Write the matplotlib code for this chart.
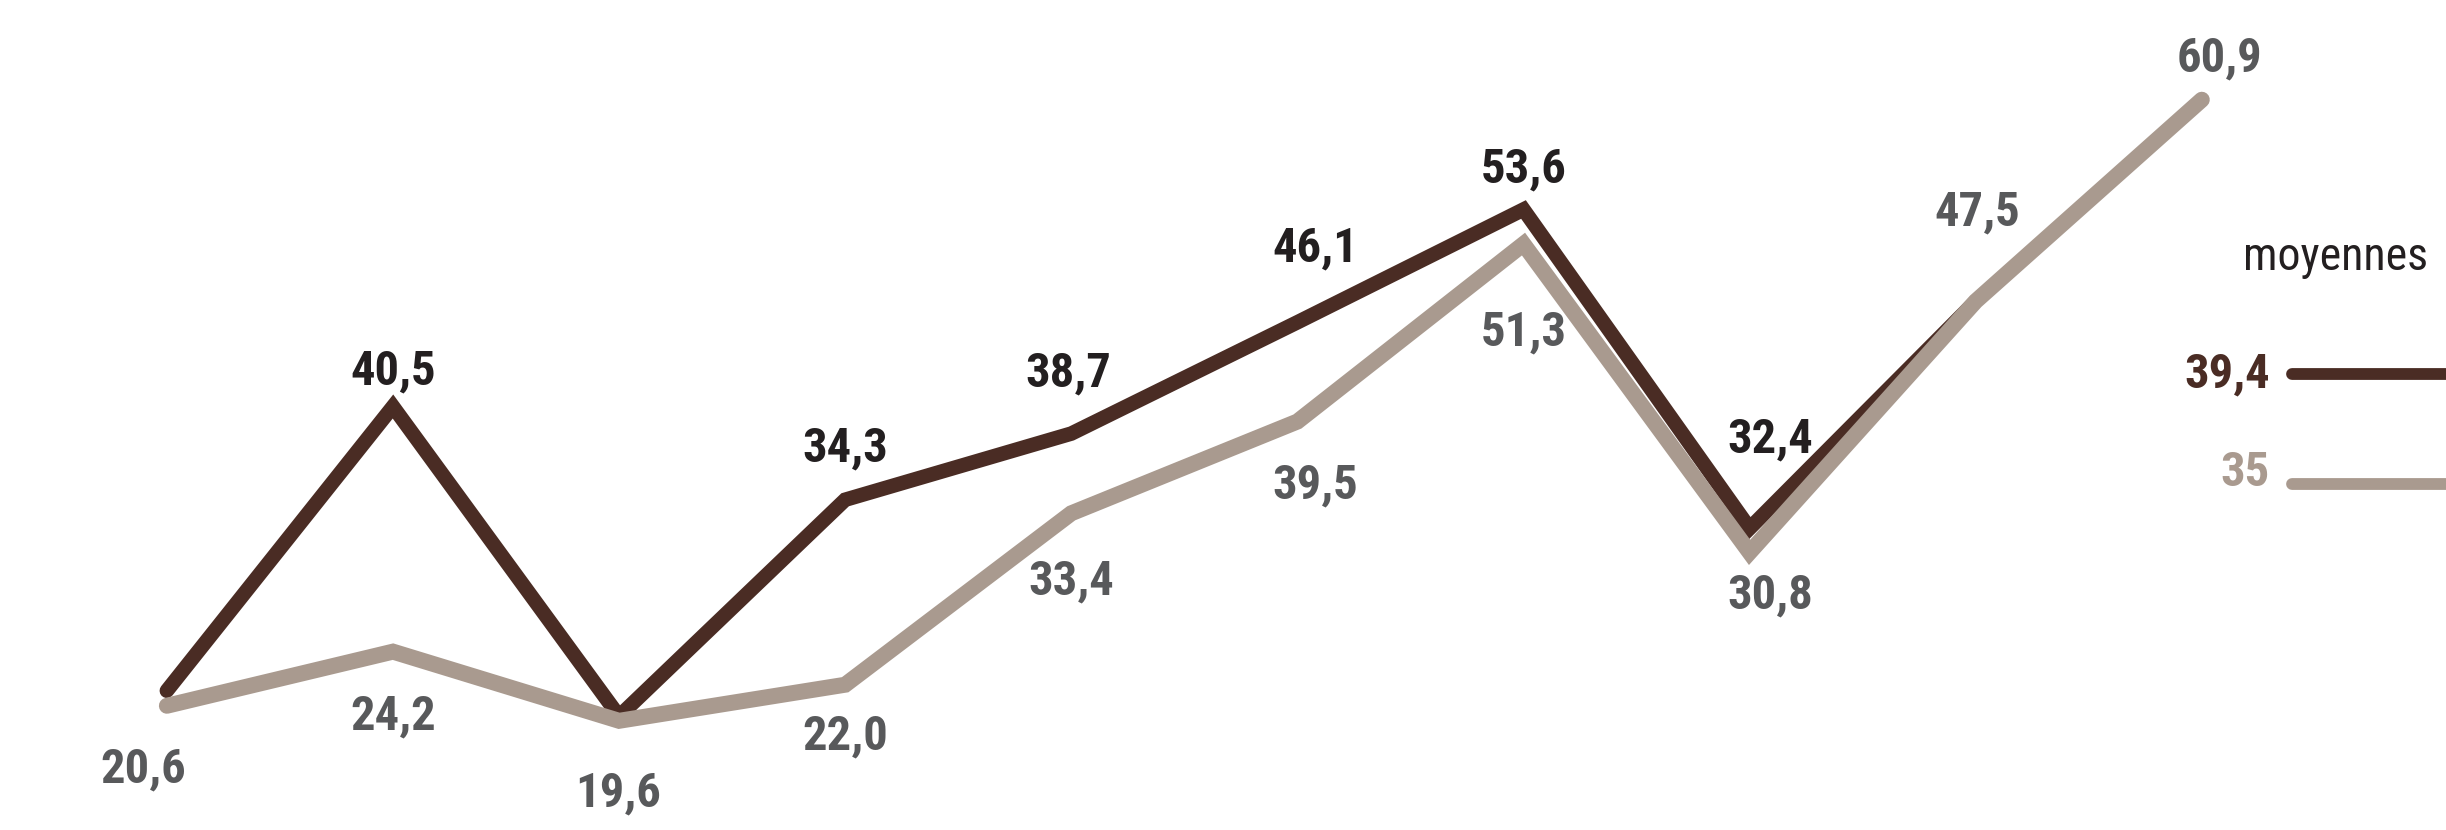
import matplotlib.pyplot as plt
from matplotlib.lines import Line2D

# valeurs
positions = list(range(10))
serie_foncee = [21.6, 40.5, 19.9, 34.3, 38.7, 46.1, 53.6, 32.4, 47.5]
serie_claire = [20.6, 24.2, 19.6, 22.0, 33.4, 39.5, 51.3, 30.8, 47.5, 60.9]

# etiquettes (index du point, texte)
etiq_foncee = [(1, "40,5"), (3, "34,3"), (4, "38,7"), (5, "46,1"), (6, "53,6"), (7, "32,4")]
etiq_claire = [(0, "20,6"), (1, "24,2"), (2, "19,6"), (3, "22,0"), (4, "33,4"),
               (5, "39,5"), (6, "51,3"), (7, "30,8"), (8, "47,5"), (9, "60,9")]

moyenne_foncee = "39,4"
moyenne_claire = "35"
titre_legende = "moyennes"

# decalages des etiquettes en points
decal_foncee = [(0, 25), (0, 37), (-2, 43), (13, 53), (0, 29), (15, 64)]
decal_claire = [(-17, -46), (0, -47), (-1, -52), (0, -37), (0, -49),
                (13, -46), (0, -64), (15, -31), (1, 64), (13, 30)]

BRUN = "#4a2c24"
GRIS = "#a99a8f"
TXT_FONCE = "#231f20"
TXT_GRIS = "#58595b"
POLICE = ["Roboto Condensed", "Barlow Condensed", "DejaVu Sans"]

plt.rcParams['font.family'] = POLICE

fig = plt.figure(figsize=(24.46, 8.30), dpi=100)
ax = fig.add_axes([0, 0, 1, 1])
ax.set_xlim(-0.738, 10.08)
ax.set_ylim(12.34, 67.53)
ax.axis('off')

ax.plot(positions[:len(serie_foncee)], serie_foncee, color=BRUN, lw=10.5,
        solid_capstyle='round', solid_joinstyle='miter', zorder=2)
ax.plot(positions, serie_claire, color=GRIS, lw=11.5,
        solid_capstyle='round', solid_joinstyle='miter', zorder=3)

for (i, txt), (dx, dy) in zip(etiq_foncee, decal_foncee):
    ax.annotate(txt, (positions[i], serie_foncee[i]), xytext=(dx, dy),
                textcoords='offset points', ha='center', va='center',
                fontsize=35, fontweight='bold', color=TXT_FONCE, zorder=4)

for (i, txt), (dx, dy) in zip(etiq_claire, decal_claire):
    ax.annotate(txt, (positions[i], serie_claire[i]), xytext=(dx, dy),
                textcoords='offset points', ha='center', va='center',
                fontsize=35, fontweight='bold', color=TXT_GRIS, zorder=4)

# legende des moyennes
fig.text(0.917, 0.69, titre_legende, ha='left', va='center', fontsize=33,
         color=TXT_FONCE)
fig.text(0.928, 0.549, moyenne_foncee, ha='right', va='center', fontsize=35,
         fontweight='bold', color=BRUN)
fig.text(0.928, 0.43, moyenne_claire, ha='right', va='center', fontsize=35,
         fontweight='bold', color=GRIS)
fig.add_artist(Line2D([0.937, 1.01], [0.549, 0.549], transform=fig.transFigure,
                      color=BRUN, lw=8.5, solid_capstyle='round'))
fig.add_artist(Line2D([0.937, 1.01], [0.417, 0.417], transform=fig.transFigure,
                      color=GRIS, lw=8.5, solid_capstyle='round'))

fig.savefig("out.png", dpi=100, facecolor='white')
